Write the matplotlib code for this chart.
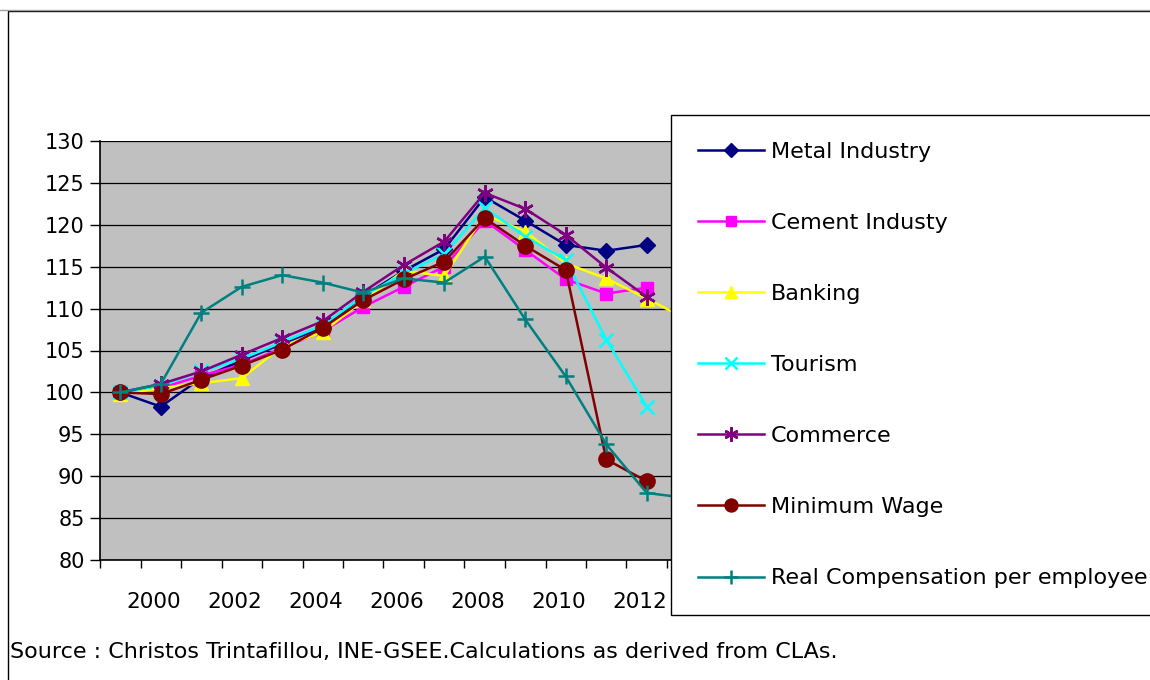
import matplotlib
matplotlib.use("Agg")
import matplotlib.pyplot as plt
from matplotlib.patches import Rectangle
from matplotlib.lines import Line2D
from matplotlib.transforms import ScaledTranslation
import numpy as np

# index 1999 = 100
years = list(range(1999, 2014))
tick_years = [2000, 2002, 2004, 2006, 2008, 2010, 2012]

metal = [100, 98.3, 101.7, 103.8, 105.8, 107.8, 111.5, 114.5, 117.1, 123.3, 120.5, 117.6, 116.9, 117.6]
cement = [100, 100.5, 102.0, 103.3, 105.3, 107.3, 110.2, 112.6, 115.0, 120.5, 117.0, 113.5, 111.8, 112.5]
banking = [99.8, 100.5, 101.1, 101.7, 105.5, 107.2, 111.0, 114.5, 113.9, 121.2, 119.2, 115.4, 113.6, 111.2, 108.7]
tourism = [100, 100.8, 102.5, 104.0, 106.0, 108.0, 111.5, 114.2, 116.5, 122.0, 118.6, 115.8, 106.3, 98.3]
commerce = [100, 101.0, 102.5, 104.5, 106.5, 108.5, 112.0, 115.2, 118.0, 123.8, 121.9, 118.8, 114.9, 111.4]
min_wage = [100, 99.8, 101.5, 103.2, 105.1, 107.7, 111.0, 113.5, 115.6, 120.8, 117.5, 114.6, 92.0, 89.4]
real_comp = [100, 101.0, 109.5, 112.6, 114.0, 113.1, 111.9, 113.6, 113.1, 116.2, 108.7, 101.9, 93.8, 88.0, 87.4]

series = [
    ("Metal Industry", metal, "#000080", "D", 8),
    ("Cement Industy", cement, "#FF00FF", "s", 8),
    ("Banking", banking, "#FFFF00", "^", 10),
    ("Tourism", tourism, "#00FFFF", "x", 10),
    ("Commerce", commerce, "#800080", (6, 2, 0), 12),
    ("Minimum Wage", min_wage, "#800000", "o", 11),
    ("Real Compensation per employee", real_comp, "#008080", "+", 12),
]

W, H = 1150, 680
fig = plt.figure(figsize=(W / 100, H / 100), dpi=100)

# page line + outer frame
fig.add_artist(Line2D([0, 1], [1 - 9.5 / H, 1 - 9.5 / H], color="#a0a0a0", lw=1))
fig.add_artist(Rectangle((8 / W, -0.05), 1.2, 1.05 - 11 / H, fill=False,
                         edgecolor="black", lw=1, transform=fig.transFigure))

left, right = 100, 100 + 15 * 40.5
top, bottom = 141, 560
ax = fig.add_axes([left / W, 1 - bottom / H, (right - left) / W, (bottom - top) / H])
ax.set_facecolor("#C0C0C0")

x = np.arange(len(years))
for name, vals, col, mk, ms in series:
    xs = x[:len(vals)]
    ax.plot(xs, vals, color=col, lw=1.8, marker=mk, markersize=ms,
            markeredgewidth=1.8 if mk in ("x", "+") or isinstance(mk, tuple) else 1,
            markeredgecolor=col, markerfacecolor=col, label=name)

ax.set_xlim(-0.5, len(years) - 0.5)
ax.set_ylim(80, 130)
ax.set_yticks(np.arange(80, 131, 5))
ax.yaxis.grid(True, color="black", lw=0.9)
ax.set_axisbelow(True)

ax.set_xticks([years.index(y) for y in tick_years])
ax.set_xticklabels([str(y) for y in tick_years])
ax.set_xticks(np.arange(-0.5, len(years), 1), minor=True)
ax.tick_params(axis="x", which="major", length=0, pad=23, labelsize=15.5)
ax.tick_params(axis="x", which="minor", length=6, width=1)
ax.tick_params(axis="y", length=7, width=1, labelsize=15, pad=4)
# labels sit a little left of their category in the original
shift = ScaledTranslation(-7 / 100, 0, fig.dpi_scale_trans)
for lab in ax.get_xticklabels():
    lab.set_transform(lab.get_transform() + shift)

for s in ["top", "right"]:
    ax.spines[s].set_visible(False)
ax.spines["left"].set_linewidth(1.2)
ax.spines["bottom"].set_linewidth(1.2)

leg = fig.legend(loc="upper left", bbox_to_anchor=(671 / W, 1 - 115 / H),
                 fontsize=16, frameon=True, fancybox=False, framealpha=1,
                 edgecolor="black", labelspacing=2.3, handlelength=2.97,
                 handletextpad=0.32, borderpad=1.2, borderaxespad=0,
                 markerscale=0.85)
leg.get_frame().set_linewidth(1)

fig.text(10 / W, 1 - 652 / H,
         "Source : Christos Trintafillou, INE-GSEE.Calculations as derived from CLAs.",
         fontsize=16, va="center", ha="left")

fig.savefig("out.png", dpi=100)
